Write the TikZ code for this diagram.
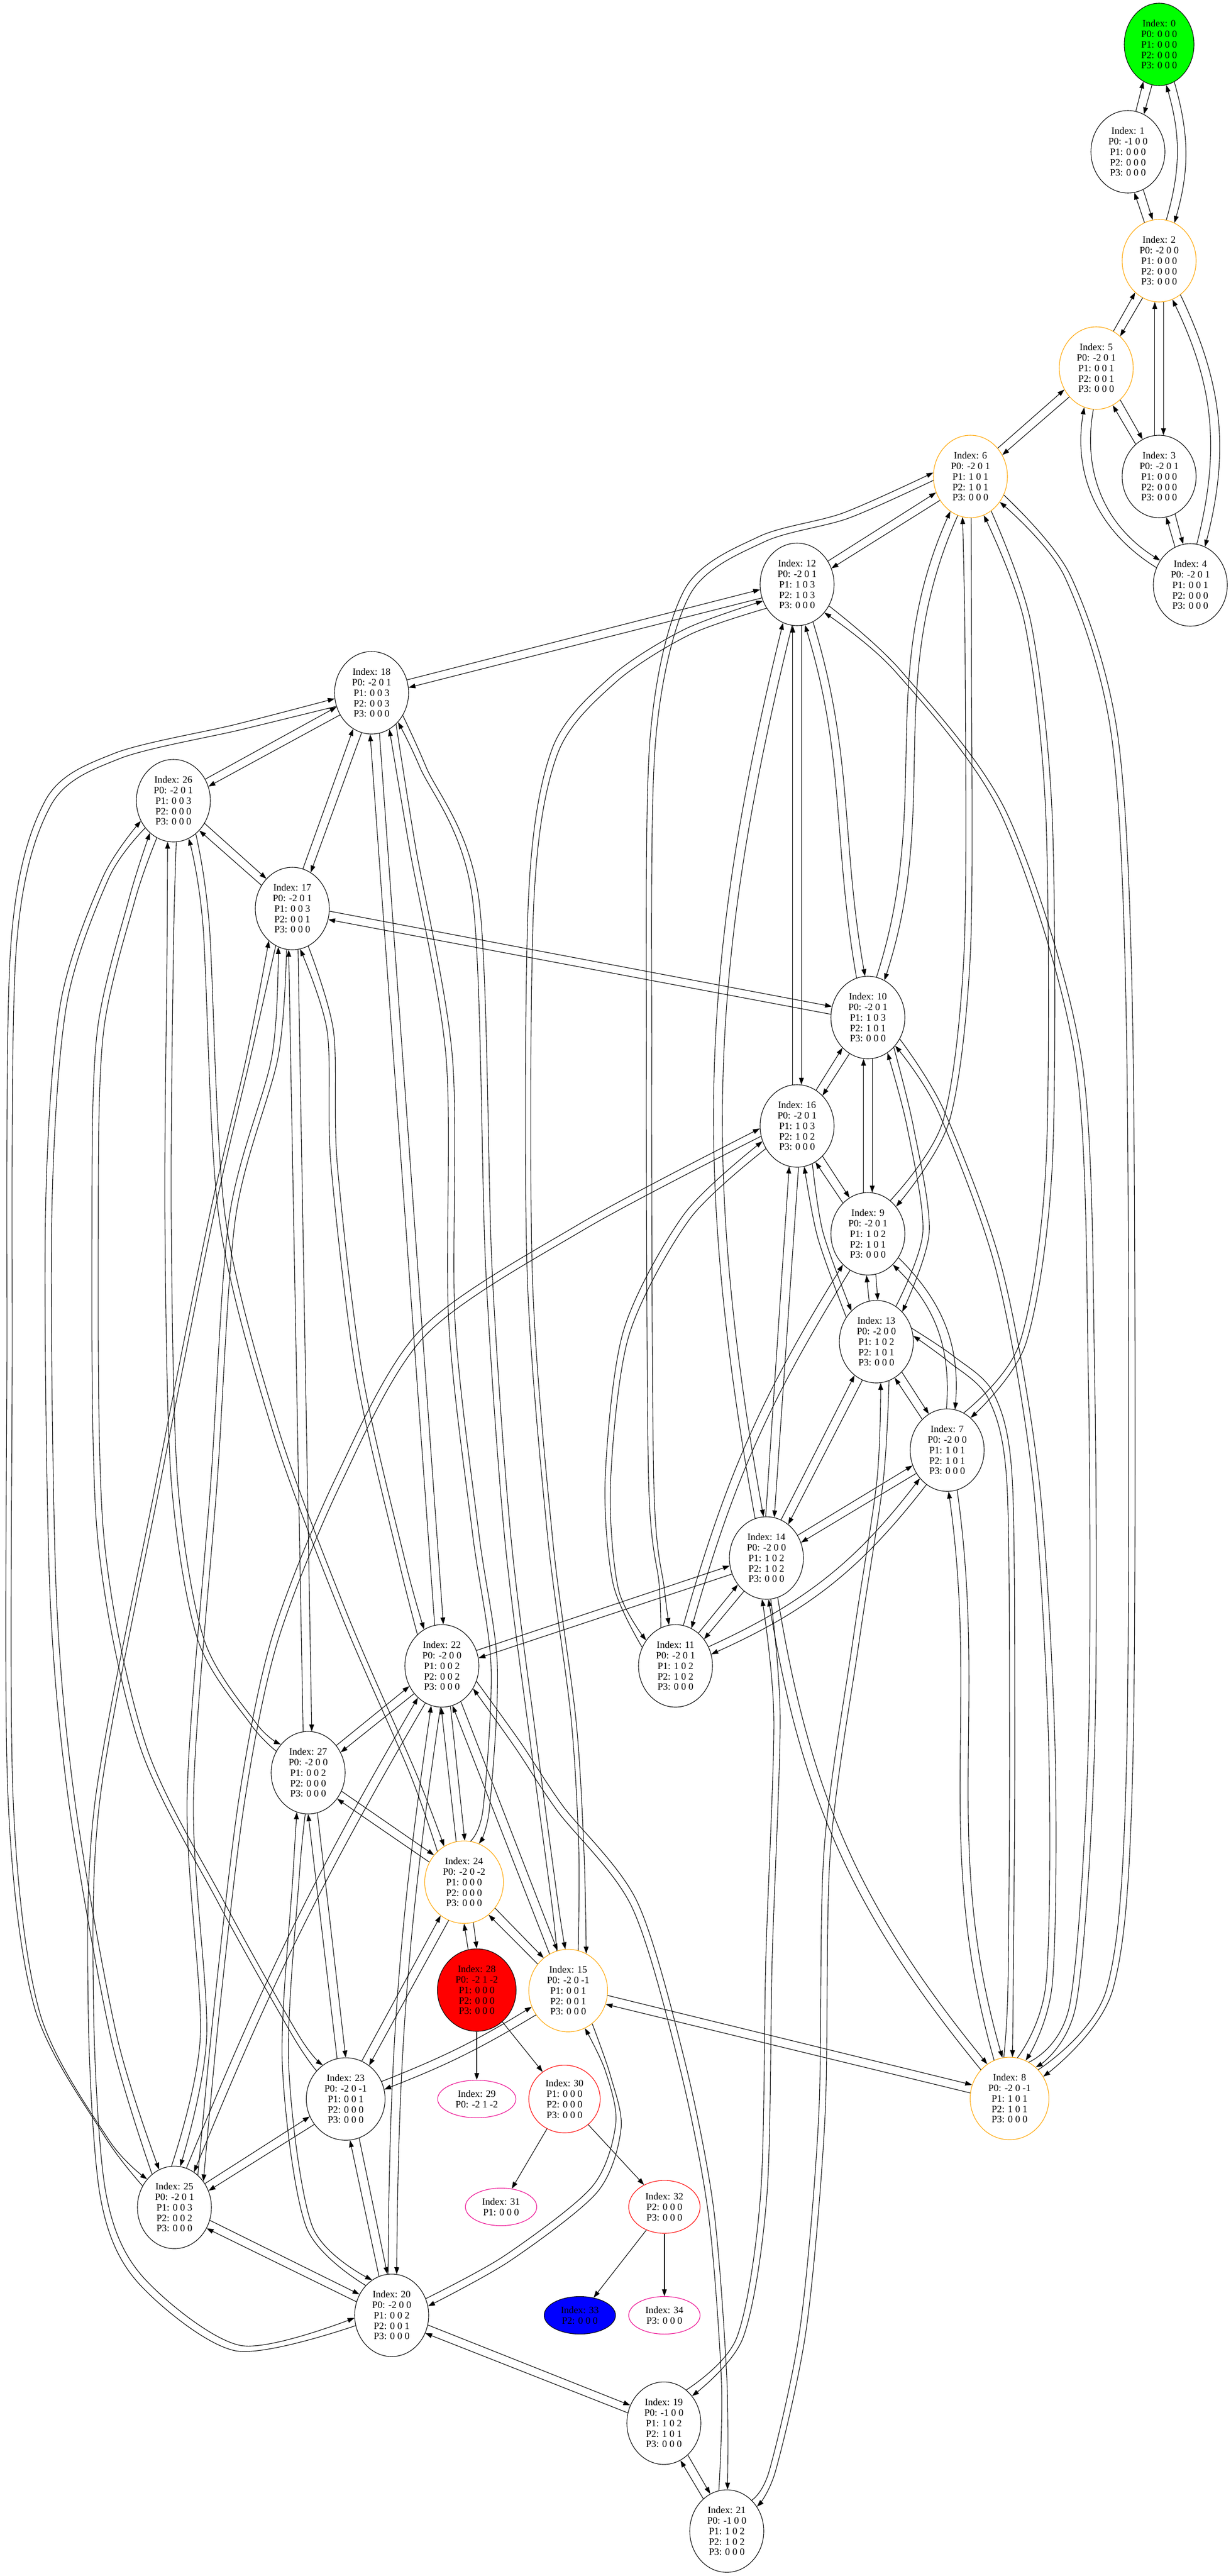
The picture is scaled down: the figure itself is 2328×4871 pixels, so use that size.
\documentclass[tikz,border=0pt]{standalone}
\usepackage{fontspec}
\setmainfont{Liberation Serif}
\usetikzlibrary{shapes.geometric,arrows.meta,calc}

\definecolor{gvorange}{HTML}{FFA500}
\tikzset{
  state/.style={ellipse, draw, line width=0.275pt, inner sep=0pt, align=center,
    minimum width=35pt, minimum height=39pt,
    font=\fontsize{4.625}{4.95}\selectfont},
  widestate/.style={state, minimum width=37.25pt},
  smallstate/.style={state, minimum width=33.75pt, minimum height=17.75pt},
  link/.style={-{Triangle[length=3.25pt,width=2.25pt]}, line width=0.275pt},
}
\def\gap{6}
% a <-> b as two arrows side by side, optional bend
\newcommand\pair[3][0]{%
  \draw[link] let \p1=($(#3)-(#2)$), \n1={atan2(\y1,\x1)},
    \n2={\n1+\gap+(#1)}, \n3={\n1+180-\gap-(#1)} in
    (#2.\n2) to[bend left=#1] (#3.\n3);
  \draw[link] let \p1=($(#2)-(#3)$), \n1={atan2(\y1,\x1)},
    \n2={\n1+\gap-(#1)}, \n3={\n1+180-\gap+(#1)} in
    (#3.\n2) to[bend right=#1] (#2.\n3);
}
% same, with given out/in angles
\newcommand\pairt[5][1]{%
  \pgfmathsetmacro\angAo{#4+\gap}\pgfmathsetmacro\angBi{#5-\gap}%
  \pgfmathsetmacro\angBo{#5+\gap}\pgfmathsetmacro\angAi{#4-\gap}%
  \draw[link] (#2.\angAo) to[out=#4,in=#5,looseness=#1] (#3.\angBi);
  \draw[link] (#3.\angBo) to[out=#5,in=#4,looseness=#1] (#2.\angAi);
}
% same, through way points x/y (y downwards), #5 = side shift
\newcommand\route[6]{%
  \pgfmathsetmacro\angAo{#3+\gap}\pgfmathsetmacro\angBi{#4-\gap}%
  \pgfmathsetmacro\angBo{#4+\gap}\pgfmathsetmacro\angAi{#3-\gap}%
  \gdef\fwd{}\gdef\bwd{}%
  \foreach \px/\py in {#6}{\xdef\fwd{\fwd ($(\px,-\py)+#5$)}\xdef\bwd{($(\px,-\py)-#5$) \bwd}}%
  \edef\tmp{\noexpand\draw[link] plot[smooth] coordinates {(#1.\angAo) \fwd (#2.\angBi)};}\tmp
  \edef\tmp{\noexpand\draw[link] plot[smooth] coordinates {(#2.\angBo) \bwd (#1.\angAi)};}\tmp
}

\begin{document}
\begin{tikzpicture}[x=0.25pt,y=0.25pt]
  \useasboundingbox (0,0) rectangle (2328,-4871);
  \fill[white] (0,0) rectangle (2328,-4871);

  % states
  \node[state, fill=green, minimum width=33pt] (s0) at (2193,-84) {Index: 0\\P0: 0 0 0\\P1: 0 0 0\\P2: 0 0 0\\P3: 0 0 0};
  \node[state] (s1) at (2134,-287) {Index: 1\\P0: -1 0 0\\P1: 0 0 0\\P2: 0 0 0\\P3: 0 0 0};
  \node[state, draw=gvorange] (s2) at (2193,-493) {Index: 2\\P0: -2 0 0\\P1: 0 0 0\\P2: 0 0 0\\P3: 0 0 0};
  \node[state] (s3) at (2193,-901) {Index: 3\\P0: -2 0 1\\P1: 0 0 0\\P2: 0 0 0\\P3: 0 0 0};
  \node[state] (s4) at (2252,-1106) {Index: 4\\P0: -2 0 1\\P1: 0 0 1\\P2: 0 0 0\\P3: 0 0 0};
  \node[state, draw=gvorange] (s5) at (2074,-696) {Index: 5\\P0: -2 0 1\\P1: 0 0 1\\P2: 0 0 1\\P3: 0 0 0};
  \node[state, draw=gvorange] (s6) at (1836,-901) {Index: 6\\P0: -2 0 1\\P1: 1 0 1\\P2: 1 0 1\\P3: 0 0 0};
  \node[state] (s7) at (1792,-2742) {Index: 7\\P0: -2 0 0\\P1: 1 0 1\\P2: 1 0 1\\P3: 0 0 0};
  \node[widestate, draw=gvorange] (s8) at (1910,-3968) {Index: 8\\P0: -2 0 -1\\P1: 1 0 1\\P2: 1 0 1\\P3: 0 0 0};
  \node[state] (s9) at (1642,-2333) {Index: 9\\P0: -2 0 1\\P1: 1 0 2\\P2: 1 0 1\\P3: 0 0 0};
  \node[state] (s10) at (1642,-1924) {Index: 10\\P0: -2 0 1\\P1: 1 0 3\\P2: 1 0 1\\P3: 0 0 0};
  \node[state] (s11) at (1278,-3150) {Index: 11\\P0: -2 0 1\\P1: 1 0 2\\P2: 1 0 2\\P3: 0 0 0};
  \node[state] (s12) at (1508,-1105) {Index: 12\\P0: -2 0 1\\P1: 1 0 3\\P2: 1 0 3\\P3: 0 0 0};
  \node[state] (s13) at (1658,-2537) {Index: 13\\P0: -2 0 0\\P1: 1 0 2\\P2: 1 0 1\\P3: 0 0 0};
  \node[state] (s14) at (1450,-2946) {Index: 14\\P0: -2 0 0\\P1: 1 0 2\\P2: 1 0 2\\P3: 0 0 0};
  \node[widestate, draw=gvorange] (s15) at (1075,-3764) {Index: 15\\P0: -2 0 -1\\P1: 0 0 1\\P2: 0 0 1\\P3: 0 0 0};
  \node[state] (s16) at (1508,-2129) {Index: 16\\P0: -2 0 1\\P1: 1 0 3\\P2: 1 0 2\\P3: 0 0 0};
  \node[state] (s17) at (553,-1718) {Index: 17\\P0: -2 0 1\\P1: 0 0 3\\P2: 0 0 1\\P3: 0 0 0};
  \node[state] (s18) at (703,-1310) {Index: 18\\P0: -2 0 1\\P1: 0 0 3\\P2: 0 0 3\\P3: 0 0 0};
  \node[state] (s19) at (1256,-4582) {Index: 19\\P0: -1 0 0\\P1: 1 0 2\\P2: 1 0 1\\P3: 0 0 0};
  \node[state] (s20) at (741,-4378) {Index: 20\\P0: -2 0 0\\P1: 0 0 2\\P2: 0 0 1\\P3: 0 0 0};
  \node[state] (s21) at (1375,-4786) {Index: 21\\P0: -1 0 0\\P1: 1 0 2\\P2: 1 0 2\\P3: 0 0 0};
  \node[state] (s22) at (836,-3150) {Index: 22\\P0: -2 0 0\\P1: 0 0 2\\P2: 0 0 2\\P3: 0 0 0};
  \node[widestate] (s23) at (654,-3969) {Index: 23\\P0: -2 0 -1\\P1: 0 0 1\\P2: 0 0 0\\P3: 0 0 0};
  \node[widestate, draw=gvorange] (s24) at (878,-3559) {Index: 24\\P0: -2 0 -2\\P1: 0 0 0\\P2: 0 0 0\\P3: 0 0 0};
  \node[state] (s25) at (330,-4174) {Index: 25\\P0: -2 0 1\\P1: 0 0 3\\P2: 0 0 2\\P3: 0 0 0};
  \node[state] (s26) at (328,-1514) {Index: 26\\P0: -2 0 1\\P1: 0 0 3\\P2: 0 0 0\\P3: 0 0 0};
  \node[state] (s27) at (583,-3352) {Index: 27\\P0: -2 0 0\\P1: 0 0 2\\P2: 0 0 0\\P3: 0 0 0};
  \node[widestate, fill=red] (s28) at (902,-3763) {Index: 28\\P0: -2 1 -2\\P1: 0 0 0\\P2: 0 0 0\\P3: 0 0 0};
  \node[smallstate, draw=magenta, minimum width=37pt] (s29) at (902,-3969) {Index: 29\\P0: -2 1 -2};
  \node[smallstate, draw=red, minimum height=32pt] (s30) at (1068,-3969) {Index: 30\\P1: 0 0 0\\P2: 0 0 0\\P3: 0 0 0};
  \node[smallstate, draw=magenta] (s31) at (948,-4173) {Index: 31\\P1: 0 0 0};
  \node[smallstate, draw=red, minimum height=25pt] (s32) at (1257,-4173) {Index: 32\\P2: 0 0 0\\P3: 0 0 0};
  \node[smallstate, fill=blue] (s33) at (1097,-4378) {Index: 33\\P2: 0 0 0};
  \node[smallstate, draw=magenta] (s34) at (1257,-4378) {Index: 34\\P3: 0 0 0};

  % moves, both ways
  \pair{s0}{s1}
  \pair[16]{s0}{s2}
  \pair{s1}{s2}
  \pair{s2}{s5}
  \pair{s2}{s3}
  \pair[20]{s2}{s4}
  \pair{s5}{s6}
  \pair{s5}{s3}
  \pair[-34]{s5}{s4}
  \pair{s3}{s4}
  \pair{s6}{s12}
  \route{s6}{s11}{180}{105}{(5,-5)}{1600/975,1440/1020,1300/1120,1235/1400,1228/2000,1232/2800,1252/3000}
  \pairt{s6}{s10}{246}{72}
  \route{s6}{s9}{265}{50}{(6,0)}{1832/1250,1830/1800,1790/2120}
  \route{s6}{s7}{295}{60}{(6,0)}{1945/1180,1985/1550,1985/2200,1935/2540}
  \route{s6}{s8}{325}{39}{(6,0)}{2020/1090,2110/1400,2138/2000,2138/3300,2100/3760}
  \pair{s12}{s16}
  \pairt{s12}{s10}{287}{100}
  \pair[-12]{s12}{s14}
  \route{s12}{s8}{320}{56}{(6,0)}{1700/1270,1900/1540,2040/2000,2065/2600,2065/3300,2030/3790}
  \pair{s12}{s18}
  \route{s12}{s15}{212}{70}{(5,-5)}{1300/1195,1160/1285,1050/1420,1005/1700,1002/2400,1040/2900,1085/3250,1100/3500}
  \pair{s18}{s26}
  \pair{s18}{s17}
  \route{s18}{s25}{195}{140}{(5,-5)}{450/1375,220/1430,90/1520,25/1800,18/2600,20/3400,70/3800,200/4040}
  \pair{s18}{s22}
  \route{s18}{s24}{302}{75}{(6,0)}{780/1600,850/2000,855/2500,900/2900,935/3150,920/3420}
  \route{s18}{s15}{318}{100}{(6,0)}{800/1450,900/1700,925/2400,960/2900,1010/3300,1050/3600}
  \pair{s26}{s17}
  \route{s26}{s25}{218}{118}{(6,0)}{200/1660,120/1900,92/2300,100/3000,135/3400,215/3850}
  \route{s26}{s27}{268}{140}{(6,0)}{322/1800,318/2300,330/2800,380/3100,480/3260}
  \route{s26}{s23}{240}{130}{(6,0)}{250/1700,190/1950,180/2300,190/2900,270/3300,420/3600,560/3850}
  \route{s26}{s24}{298}{125}{(6,0)}{390/1750,420/2300,520/2700,650/3050,780/3350}
  \pair{s17}{s10}
  \route{s17}{s20}{240}{190}{(5,5)}{470/2000,400/2300,300/2800,185/3400,172/3800,195/4150,265/4310,450/4440}
  \route{s17}{s25}{256}{88}{(6,0)}{520/2000,440/2300,405/2800,360/3400,385/3850}
  \pair{s17}{s27}
  \route{s17}{s22}{287}{122}{(6,0)}{625/1950,632/2200,680/2600,760/2950}
  \pair{s10}{s16}
  \pair{s10}{s9}
  \route{s10}{s13}{305}{55}{(6,0)}{1722/2130,1752/2330}
  \route{s10}{s8}{320}{73}{(6,0)}{1780/2100,1890/2400,1960/2800,1990/3300,1985/3750}
  \pair{s16}{s9}
  \route{s16}{s13}{286}{135}{(5,5)}{1552/2335}
  \pair{s16}{s14}
  \route{s16}{s25}{190}{48}{(5,-5)}{1100/2320,800/2520,640/2800,520/3100,458/3400,410/3800}
  \route{s16}{s11}{210}{145}{(5,-5)}{1300/2300,1185/2520,1150/2800,1165/3000}
  \pair{s9}{s13}
  \pair[25]{s9}{s7}
  \pair[-8]{s9}{s11}
  \pair{s13}{s7}
  \pair{s13}{s14}
  \route{s13}{s8}{15}{92}{(5,5)}{1800/2570,1875/2640,1910/2800,1915/3300,1912/3750}
  \route{s13}{s21}{282}{45}{(6,0)}{1665/2800,1620/3100,1565/3500,1555/4000,1520/4400,1462/4670}
  \pair{s7}{s14}
  \pair[14]{s7}{s11}
  \pairt{s7}{s8}{278}{106}
  \pair{s14}{s11}
  \pair{s14}{s22}
  \pair[-15]{s14}{s8}
  \route{s14}{s19}{270}{50}{(6,0)}{1470/3250,1455/3700,1445/4150,1400/4420}
  \pair{s22}{s27}
  \pair{s22}{s24}
  \pair{s22}{s15}
  \pair[-4]{s22}{s20}
  \route{s22}{s21}{330}{95}{(5,5)}{980/3300,1060/3420,1200/3600,1290/3900,1345/4180,1370/4500}
  \pair[-4]{s22}{s25}
  \pair{s27}{s24}
  \pair{s27}{s23}
  \route{s27}{s20}{260}{125}{(6,0)}{560/3550,540/3900,585/4210}
  \pair{s24}{s15}
  \pair{s24}{s23}
  \pair{s24}{s28}
  \pair[5]{s15}{s23}
  \pair{s15}{s8}
  \route{s15}{s20}{300}{20}{(5,-5)}{1150/3920,1170/4020,1125/4140,960/4270}
  \pair{s23}{s25}
  \pair{s23}{s20}
  \pair{s25}{s20}
  \pair{s20}{s19}
  \pair{s19}{s21}

  % one way
  \draw[link] (s28) -- (s29);
  \draw[link] (s28) -- (s30);
  \draw[link] (s30) -- (s31);
  \draw[link] (s30) -- (s32);
  \draw[link] (s32) -- (s33);
  \draw[link] (s32) -- (s34);
\end{tikzpicture}
\end{document}
